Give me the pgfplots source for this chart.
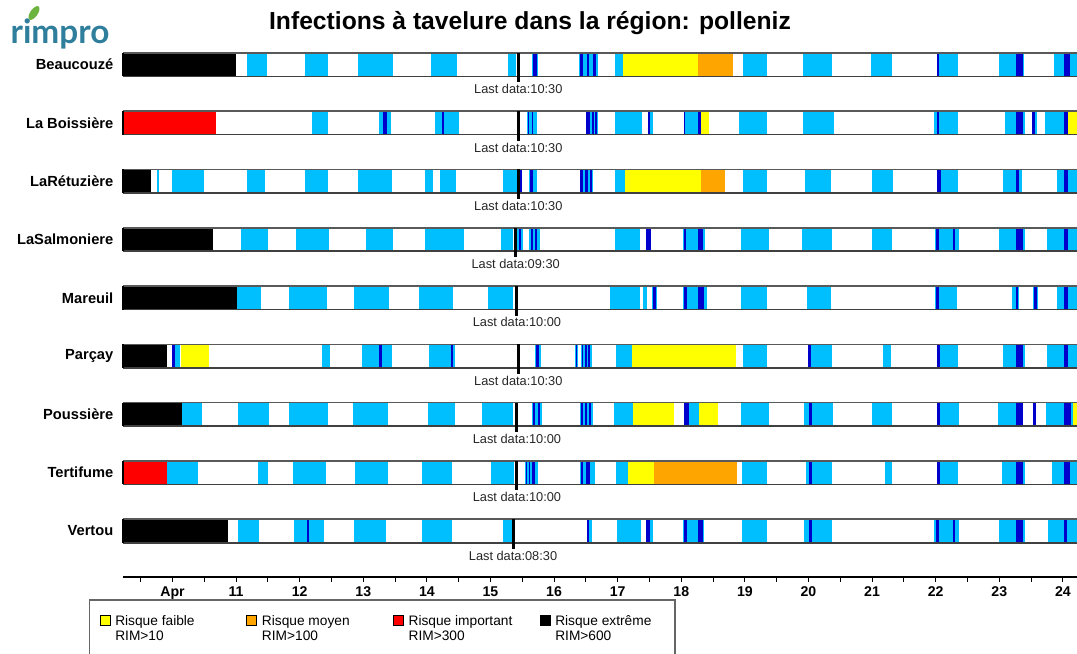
\documentclass[border=0pt]{standalone}
\usepackage{pgfplots}
\pgfplotsset{compat=1.18}
\usepackage{pgfplotstable}
\usepackage{fontspec}
\setmainfont{Liberation Sans}
\newfontfamily\logofont{Lato}
\definecolor{cLight}{HTML}{00BFFF}
\definecolor{cDark}{HTML}{0000CD}
\definecolor{cYellow}{HTML}{FFFF00}
\definecolor{cOrange}{HTML}{FFA500}
\definecolor{cRed}{HTML}{FF0000}
\definecolor{cLogo}{HTML}{2E7E9C}
\definecolor{cLeaf}{HTML}{6DB33F}

% light blue periods (start day, end day, row)
\pgfplotstableread{
s e y
11.167 11.481 -1
12.083 12.450 -1
12.921 13.462 -1
14.060 14.469 -1
15.270 15.401 -1
15.648 15.752 -1
16.396 16.695 -1
16.958 17.088 -1
18.965 19.343 -1
19.918 20.374 -1
20.983 21.308 -1
22.016 22.355 -1
23.000 23.388 -1
23.860 24.222 -1
12.198 12.450 -2
13.252 13.436 -2
14.132 14.500 -2
15.579 15.736 -2
16.497 16.686 -2
16.958 17.377 -2
17.481 17.560 -2
18.042 18.305 -2
18.912 19.343 -2
19.918 20.401 -2
21.973 22.355 -2
23.090 23.404 -2
23.519 23.588 -2
23.719 24.075 -2
9.752 9.792 -3
9.997 10.491 -3
11.167 11.459 -3
12.083 12.450 -3
12.921 13.456 -3
13.970 14.091 -3
14.206 14.458 -3
15.201 15.453 -3
15.610 15.726 -3
16.407 16.607 -3
16.958 17.115 -3
18.965 19.352 -3
19.945 20.354 -3
20.998 21.324 -3
22.025 22.355 -3
23.053 23.352 -3
23.912 24.222 -3
11.077 11.497 -4
11.937 12.465 -4
13.038 13.472 -4
13.970 14.588 -4
15.160 15.358 -4
15.421 15.516 -4
15.610 15.778 -4
16.958 17.351 -4
17.445 17.530 -4
18.031 18.373 -4
18.939 19.384 -4
19.903 20.374 -4
20.998 21.318 -4
21.989 22.371 -4
23.000 23.404 -4
23.745 24.222 -4
11.019 11.392 -5
11.832 12.434 -5
12.854 13.399 -5
13.881 14.406 -5
14.956 15.358 -5
16.879 17.351 -5
17.403 17.456 -5
17.535 17.623 -5
18.031 18.399 -5
18.939 19.352 -5
19.981 20.354 -5
21.989 22.330 -5
23.195 23.314 -5
23.525 23.613 -5
23.912 24.222 -5
10.039 10.118 -6
12.355 12.476 -6
12.984 13.456 -6
14.038 14.442 -6
15.700 15.789 -6
16.329 16.370 -6
16.420 16.591 -6
16.973 17.230 -6
18.975 19.352 -6
19.987 20.374 -6
21.167 21.292 -6
22.025 22.355 -6
23.053 23.404 -6
23.745 24.222 -6
10.154 10.469 -7
11.035 11.517 -7
11.832 12.450 -7
12.833 13.384 -7
14.022 14.442 -7
14.862 15.358 -7
15.648 15.805 -7
16.407 16.616 -7
16.942 17.245 -7
18.121 18.278 -7
18.939 19.384 -7
19.929 20.390 -7
21.003 21.318 -7
22.025 22.371 -7
22.984 23.377 -7
23.730 24.164 -7
9.918 10.396 -8
11.349 11.497 -8
11.899 12.409 -8
12.869 13.393 -8
13.918 14.390 -8
15.008 15.369 -8
15.542 15.742 -8
16.407 16.643 -8
16.973 17.157 -8
18.950 19.352 -8
19.956 20.374 -8
21.203 21.318 -8
22.025 22.355 -8
23.038 23.404 -8
23.824 24.222 -8
11.025 11.365 -9
11.915 12.387 -9
12.854 13.357 -9
13.918 14.390 -9
15.192 15.333 -9
16.522 16.591 -9
16.994 17.362 -9
17.440 17.550 -9
18.031 18.357 -9
18.950 19.352 -9
19.929 20.374 -9
21.973 22.371 -9
22.995 23.404 -9
23.770 24.222 -9
}\tLight

% dark blue periods
\pgfplotstableread{
s e y
15.664 15.726 -1
16.407 16.454 -1
16.522 16.553 -1
16.616 16.659 -1
22.016 22.047 -1
23.263 23.368 -1
24.017 24.112 -1
13.314 13.368 -2
14.233 14.274 -2
15.582 15.605 -2
15.649 15.668 -2
16.502 16.564 -2
16.591 16.627 -2
16.643 16.670 -2
17.481 17.508 -2
18.042 18.063 -2
18.267 18.305 -2
22.016 22.047 -2
23.263 23.368 -2
23.519 23.561 -2
24.022 24.075 -2
15.453 15.491 -3
15.621 15.673 -3
16.407 16.449 -3
16.486 16.528 -3
16.564 16.601 -3
22.025 22.083 -3
23.263 23.305 -3
24.017 24.085 -3
15.453 15.475 -4
15.632 15.664 -4
15.700 15.726 -4
17.445 17.519 -4
18.042 18.074 -4
18.267 18.336 -4
22.005 22.057 -4
22.277 22.308 -4
23.263 23.377 -4
24.017 24.085 -4
17.550 17.602 -5
18.042 18.085 -5
18.267 18.357 -5
22.005 22.057 -5
23.263 23.299 -5
23.546 23.588 -5
24.017 24.085 -5
9.992 10.039 -6
13.252 13.289 -6
14.374 14.415 -6
15.711 15.763 -6
16.340 16.365 -6
16.434 16.459 -6
16.486 16.513 -6
16.538 16.564 -6
19.987 20.039 -6
22.025 22.068 -6
23.263 23.377 -6
24.017 24.085 -6
15.664 15.700 -7
15.742 15.778 -7
16.418 16.455 -7
16.490 16.510 -7
16.550 16.580 -7
18.042 18.121 -7
20.013 20.055 -7
22.025 22.068 -7
23.263 23.377 -7
23.525 23.577 -7
24.017 24.123 -7
15.553 15.580 -8
15.600 15.625 -8
15.650 15.700 -8
16.418 16.459 -8
16.502 16.564 -8
20.013 20.055 -8
22.025 22.068 -8
23.263 23.377 -8
24.017 24.112 -8
12.119 12.151 -9
16.522 16.549 -9
17.440 17.508 -9
18.042 18.085 -9
18.267 18.336 -9
20.013 20.055 -9
22.005 22.057 -9
22.277 22.308 -9
23.263 23.377 -9
24.017 24.069 -9
}\tDark

% Risque faible (yellow)
\pgfplotstableread{
s e y
17.088 18.258 -1
18.305 18.440 -2
24.075 24.222 -2
17.115 18.305 -3
10.129 10.579 -6
17.230 18.855 -6
17.245 17.885 -7
18.278 18.582 -7
24.164 24.222 -7
17.157 17.575 -8
}\tYellow

% Risque moyen (orange)
\pgfplotstableread{
s e y
18.258 18.818 -1
18.305 18.692 -3
17.575 18.871 -8
}\tOrange

% Risque important (red)
\pgfplotstableread{
s e y
9.222 10.684 -2
9.222 9.918 -8
}\tRed

% Risque extreme (black)
\pgfplotstableread{
s e y
9.222 11.000 -1
9.222 9.657 -3
9.222 10.632 -4
9.222 11.019 -5
9.222 9.918 -6
9.222 10.154 -7
9.222 10.877 -9
}\tBlack

% last data time stamps
\pgfplotstableread{
t y lbl
15.4375 -1 10:30
15.4375 -2 10:30
15.4375 -3 10:30
15.3958 -4 09:30
15.4167 -5 10:00
15.4375 -6 10:30
15.4167 -7 10:00
15.4167 -8 10:00
15.3542 -9 08:30
}\tLast

\pgfplotsset{
  seg/.style={forget plot, draw=none, mark=none,
    error bars/.cd, x dir=plus, x explicit, error mark=none,
    error bar style={draw=#1, solid, line width=17.6pt, line cap=butt}},
}

\begin{document}
\begin{tikzpicture}
\useasboundingbox (0,0) rectangle (807.75pt,-489.75pt);
\begin{axis}[
  at={(92.25pt,-432.75pt)}, anchor=south west,
  scale only axis, width=715.5pt, height=406.16pt,
  xmin=9.222, xmax=24.222, ymin=-9.789, ymax=-0.5,
  axis x line*=bottom, axis y line*=left,
  y axis line style={draw=none},
  x axis line style={line width=1.5pt},
  xtick={10,...,24},
  xticklabels={Apr,11,12,13,14,15,16,17,18,19,20,21,22,23,24},
  minor xtick={9.5,10.5,...,23.5},
  tick align=outside,
  major tick length=3.75pt, minor tick length=3.75pt,
  xtick style={line width=0.8pt, black},
  ytick={-9,...,-1},
  yticklabels={Vertou,Tertifume,Poussière,Parçay,Mareuil,LaSalmoniere,LaRétuzière,La Boissière,Beaucouzé},
  ytick style={draw=none},
  xticklabel style={font=\bfseries\fontsize{10.6}{12}\selectfont},
  yticklabel style={font=\bfseries\fontsize{11}{13}\selectfont},
  clip=false,
]
\addplot[seg=cLight] table[x=s, y=y, x error expr=\thisrow{e}-\thisrow{s}] {\tLight};
\addplot[seg=cDark] table[x=s, y=y, x error expr=\thisrow{e}-\thisrow{s}] {\tDark};
\addplot[seg=cYellow] table[x=s, y=y, x error expr=\thisrow{e}-\thisrow{s}] {\tYellow};
\addplot[seg=cOrange] table[x=s, y=y, x error expr=\thisrow{e}-\thisrow{s}] {\tOrange};
\addplot[seg=cRed] table[x=s, y=y, x error expr=\thisrow{e}-\thisrow{s}] {\tRed};
\addplot[seg=black] table[x=s, y=y, x error expr=\thisrow{e}-\thisrow{s}] {\tBlack};

\pgfplotsinvokeforeach{1,...,9}{
  \draw[black!65, line width=1.2pt] (axis cs:9.222,{-#1+0.2015}) -- (axis cs:24.222,{-#1+0.2015});
  \draw[black!75, line width=1.2pt] (axis cs:9.222,{-#1-0.2015}) -- (axis cs:24.222,{-#1-0.2015});
  \draw[black, line width=0.8pt] (axis cs:9.222,{-#1+0.2015}) -- (axis cs:9.222,{-#1-0.2015});
}

\addplot[forget plot, draw=none, mark=none,
  error bars/.cd, y dir=both, y explicit, error mark=none,
  error bar style={draw=black, solid, line width=2.25pt, line cap=butt}]
  table[x=t, y=y, y error plus expr=0.2015, y error minus expr=0.305] {\tLast};
\addplot[forget plot, draw=none, mark=none, point meta=explicit symbolic,
  nodes near coords={Last data:\pgfplotspointmeta},
  nodes near coords style={anchor=center, yshift=-18.45pt, font=\fontsize{9.6}{11}\selectfont, text=black!85}]
  table[x=t, y=y, meta=lbl] {\tLast};
\end{axis}

% legend
\draw[black!60, line width=0.8pt, fill=white] (67pt,-495pt) rectangle (506.25pt,-450pt);
\foreach \i/\c/\a/\b in {0/cYellow/Risque faible/RIM>10, 1/cOrange/Risque moyen/RIM>100, 2/cRed/Risque important/RIM>300, 3/black/Risque extrême/RIM>600}{
  \draw[black, line width=0.6pt, fill=\c] ({75pt+\i*110pt},-468.75pt) rectangle ++(7.5pt,7.5pt);
  \node[anchor=base west, inner sep=0pt, font=\fontsize{10.3}{11.25}\selectfont] at ({86.25pt+\i*110pt},-468.75pt) {\a};
  \node[anchor=base west, inner sep=0pt, font=\fontsize{10.3}{11.25}\selectfont] at ({86.25pt+\i*110pt},-480pt) {\b};
}

\node[anchor=base, font=\bfseries\fontsize{18.5}{22}\selectfont] at (397.5pt,-21.75pt) {Infections à tavelure dans la région: polleniz};
\node[anchor=base, font=\logofont\bfseries\fontsize{25}{25}\selectfont, text=cLogo] at (45pt,-32.25pt) {rimpro};
\fill[cLeaf, rotate around={-35:(25.5pt,-9.75pt)}] (25.5pt,-9.75pt) ellipse (2.8pt and 6pt);
\end{tikzpicture}
\end{document}
